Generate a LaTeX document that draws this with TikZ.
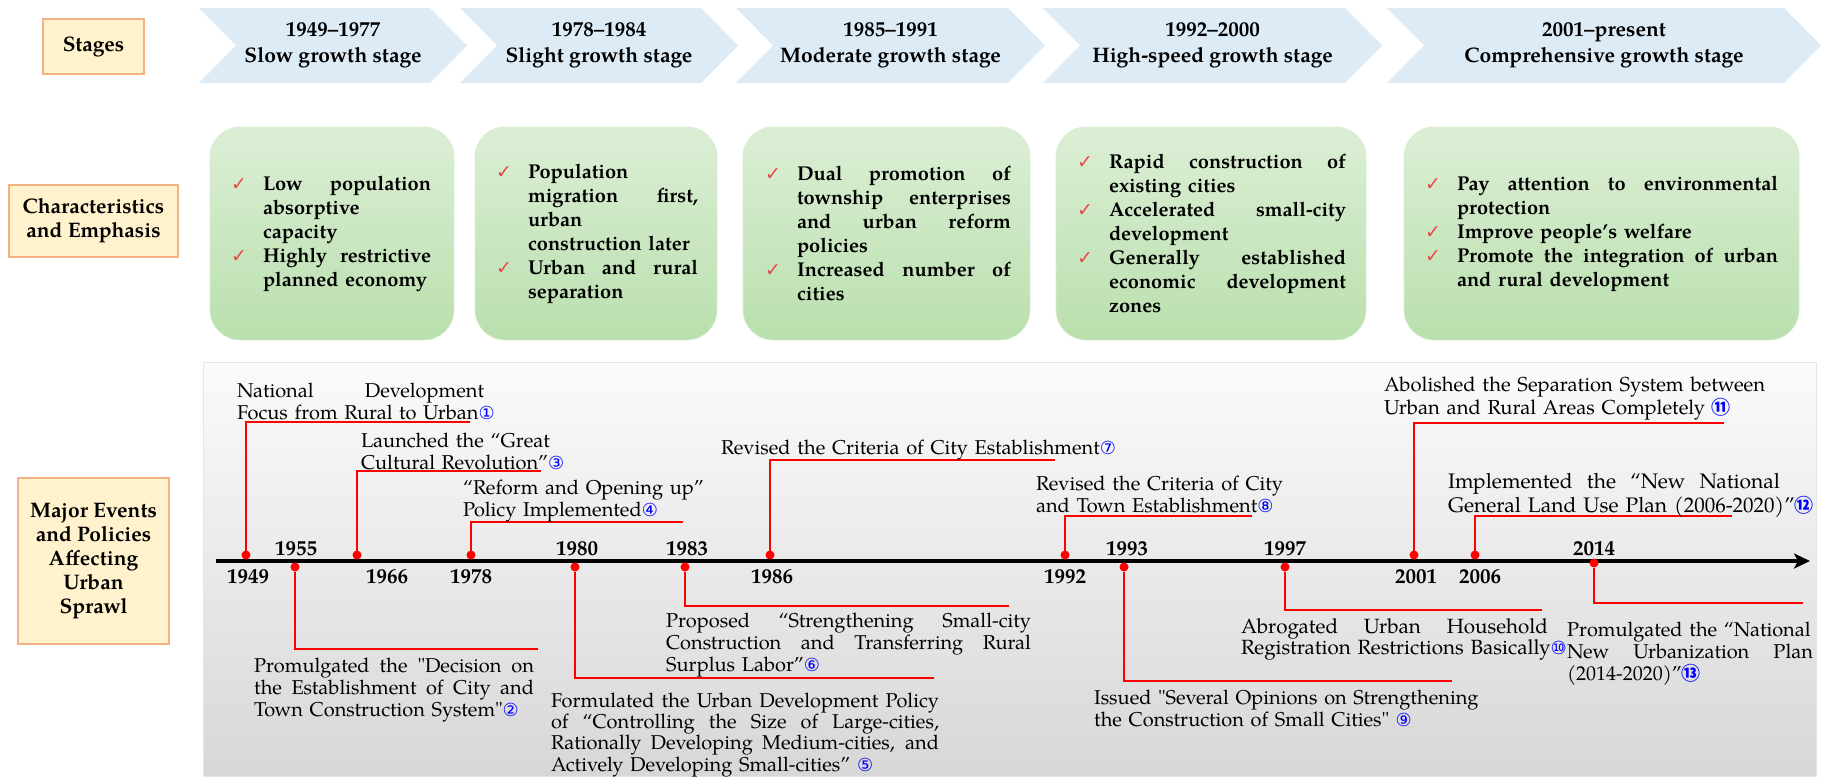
\documentclass[tikz,border=0pt]{standalone}
\usepackage{fontspec}
\newfontfamily\pala{TeX Gyre Pagella}
\newfontfamily\dejavu{DejaVu Sans}
\newfontfamily\cjk{Noto Sans CJK SC}
\usetikzlibrary{positioning}
\usetikzlibrary{calc}
\usetikzlibrary{arrows.meta}

\definecolor{headfill}{RGB}{255,242,204}
\definecolor{headline}{RGB}{244,177,131}
\definecolor{chevfill}{RGB}{221,235,247}
\definecolor{greentop}{RGB}{237,246,233}
\definecolor{greenmid}{RGB}{178,220,165}
\definecolor{greenbot}{RGB}{206,232,197}
\definecolor{greenline}{RGB}{218,237,211}
\definecolor{paneltop}{RGB}{251,251,251}
\definecolor{panelbot}{RGB}{215,215,215}
\definecolor{panelline}{RGB}{228,228,228}
\definecolor{eventred}{RGB}{255,0,0}
\definecolor{tickred}{RGB}{236,72,72}
\definecolor{numblue}{RGB}{0,0,255}

\pgfdeclareverticalshading{greenfade}{100bp}{color(0bp)=(greenbot); color(14bp)=(greenmid); color(100bp)=(greentop)}

% circled numbers, ticks and full justified lines
\newcommand\cn[1]{\textcolor{numblue}{\dejavu\fontsize{9}{9}\selectfont #1}}
\newcommand\cnb[1]{\textcolor{numblue}{\cjk\bfseries\fontsize{9.5}{9.5}\selectfont #1}}
\newcommand\tick{\leavevmode\llap{\textcolor{tickred}{\dejavu\fontsize{9.5}{9.5}\selectfont ✓}\hspace{8pt}}}
\newcommand\jline[1]{\leavevmode\hbox to\hsize{\spaceskip=.25em plus 1fil\relax #1}}

\tikzset{
        every node/.style={inner sep=0pt,outer sep=0pt},
        headbox/.style={draw=headline,fill=headfill,line width=1pt,align=center,
                font=\pala\bfseries\fontsize{10.5}{12}\selectfont},
        stagechev/.style={fill=chevfill},
        stagetext/.style={align=center,font=\pala\bfseries\fontsize{10.5}{13}\selectfont},
        greenbox/.style={draw=greenline,shading=greenfade,rounded corners=15pt},
        itemtext/.style={text width=#1,align=left,anchor=west,
                font=\pala\bfseries\fontsize{10}{12}\selectfont},
        eventtext/.style={text width=#1,align=left,anchor=base west,
                font=\pala\fontsize{10}{11}\selectfont},
        yearlabel/.style={font=\pala\bfseries\fontsize{10.5}{12}\selectfont},
        eventdot/.style={circle,fill=eventred,minimum size=4.5pt},
        leader/.style={draw=eventred,line width=1.1pt},
        timeaxis/.style={line width=2pt,-{Stealth[length=8pt,width=7.5pt,inset=2pt]}},
        }

\begin{document}
\begin{tikzpicture}[x=0.5pt,y=-0.5pt]

		\useasboundingbox (0,0) rectangle (1823,777);

		% row headings.....................
		\node [headbox, minimum width=50.5pt, minimum height=27.5pt] (stages) at (93.5,46.5) {Stages};
		\node [headbox, minimum width=84.5pt, minimum height=36pt] (charact) at (93.5,221) {Characteristics\\and Emphasis};
		\node [headbox, minimum width=75.5pt, minimum height=83pt] (events) at (93.5,561) {Major Events\\and Policies\\Affecting\\Urban\\Sprawl};

		% stage arrows......................
		\foreach \l/\r in {199/430,460/701,736/1008,1043/1345,1387/1784}
			\fill [stagechev] (\l,8) -- (\r,8) -- (\r+37,45.5) -- (\r,83) -- (\l,83) -- (\l+37,45.5) -- cycle;

		\node [stagetext] (stage1) at (333,45.5) {1949–1977\\Slow growth stage};
		\node [stagetext] (stage2) at (599,45.5) {1978–1984\\Slight growth stage};
		\node [stagetext] (stage3) at (890.5,45.5) {1985–1991\\Moderate growth stage};
		\node [stagetext] (stage4) at (1212.5,45.5) {1992–2000\\High-speed growth stage};
		\node [stagetext] (stage5) at (1604,45.5) {2001–present\\Comprehensive growth stage};

		% characteristics boxes..................
		\node [greenbox, minimum width=122pt, minimum height=106.5pt] (box1) at (332,233.5) {};
		\node [itemtext=84pt] (box1txt) at ([xshift=26.5pt]box1.west) {%
			\tick\jline{Low population}\\
			absorptive\\
			capacity\\
			\tick\jline{Highly restrictive}\\
			planned economy};

		\node [greenbox, minimum width=121pt, minimum height=106.5pt] (box2) at (596,233.5) {};
		\node [itemtext=85pt] (box2txt) at ([xshift=26.5pt]box2.west) {%
			\tick Population\\
			\jline{migration first,}\\
			urban\\
			\mbox{construction later}\\
			\tick\jline{Urban and rural}\\
			separation};

		\node [greenbox, minimum width=143.5pt, minimum height=106.5pt] (box3) at (886.5,233.5) {};
		\node [itemtext=107pt] (box3txt) at ([xshift=27pt]box3.west) {%
			\tick\jline{Dual promotion of}\\
			\jline{township enterprises}\\
			\jline{and urban reform}\\
			policies\\
			\tick\jline{Increased number of}\\
			cities};

		\node [greenbox, minimum width=155pt, minimum height=106.5pt] (box4) at (1211,233.5) {};
		\node [itemtext=118.5pt] (box4txt) at ([xshift=26.5pt]box4.west) {%
			\tick\jline{Rapid construction of}\\
			existing cities\\
			\tick\jline{Accelerated small-city}\\
			development\\
			\tick\jline{Generally established}\\
			\jline{economic development}\\
			zones};

		\node [greenbox, minimum width=197.5pt, minimum height=106.5pt] (box5) at (1601.5,233.5) {};
		\node [itemtext=160.5pt] (box5txt) at ([xshift=26.5pt]box5.west) {%
			\tick\jline{Pay attention to environmental}\\
			protection\\
			\tick Improve people’s welfare\\
			\tick\jline{Promote the integration of urban}\\
			and rural development};

		% timeline panel......................
		\shade [top color=paneltop, bottom color=panelbot, draw=panelline] (203,362) rectangle (1816,776);

		% time axis...........................
		\coordinate (axisstart) at (216,561);
		\coordinate (axisend) at (1810,561);
		\draw [timeaxis] (axisstart) to (axisend);

		% event dots and years.................
		\node [eventdot] (d1949) at (246,555) {};
		\node [eventdot] (d1955) at (295,567) {};
		\node [eventdot] (d1966) at (357,555) {};
		\node [eventdot] (d1978) at (471,555) {};
		\node [eventdot] (d1980) at (575,567) {};
		\node [eventdot] (d1983) at (685,567) {};
		\node [eventdot] (d1986) at (770,555) {};
		\node [eventdot] (d1992) at (1065,555) {};
		\node [eventdot] (d1993) at (1124,567) {};
		\node [eventdot] (d1997) at (1285,567) {};
		\node [eventdot] (d2001) at (1414,555) {};
		\node [eventdot] (d2006) at (1475,555) {};
		\node [eventdot] (d2014) at (1594,563) {};

		\node [yearlabel] (y1949) at (248,577) {1949};
		\node [yearlabel] (y1955) at (296,549) {1955};
		\node [yearlabel] (y1966) at (387,577) {1966};
		\node [yearlabel] (y1978) at (471,577) {1978};
		\node [yearlabel] (y1980) at (577,549) {1980};
		\node [yearlabel] (y1983) at (687,549) {1983};
		\node [yearlabel] (y1986) at (772,577) {1986};
		\node [yearlabel] (y1992) at (1065,577) {1992};
		\node [yearlabel] (y1993) at (1127,549) {1993};
		\node [yearlabel] (y1997) at (1285,549) {1997};
		\node [yearlabel] (y2001) at (1416,577) {2001};
		\node [yearlabel] (y2006) at (1480,577) {2006};
		\node [yearlabel] (y2014) at (1594,549) {2014};

		% leader ends..........................
		\coordinate (e1949) at (470,422);
		\coordinate (e1955) at (538,649);
		\coordinate (e1966) at (541,471);
		\coordinate (e1978) at (683,522);
		\coordinate (e1980) at (934,678);
		\coordinate (e1983) at (1009,606);
		\coordinate (e1986) at (1055,460);
		\coordinate (e1992) at (1252,516);
		\coordinate (e1993) at (1452,681);
		\coordinate (e1997) at (1542,610);
		\coordinate (e2001) at (1724,423);
		\coordinate (e2006) at (1732,516);
		\coordinate (e2014) at (1803,603);

		\foreach \yr in {1949,1955,1966,1978,1980,1983,1986,1992,1993,1997,2001,2006,2014}
			\draw [leader] (d\yr) |- (e\yr);

		% events above the axis...................
		\node [eventtext=123.5pt] (t1949) at (237,397) {\jline{National Development}\\\mbox{Focus from Rural to Urban\cn{①}}};
		\node [eventtext=120pt] (t1966) at (361,447) {Launched the “Great\\\mbox{Cultural Revolution”\cn{③}}};
		\node [eventtext=130pt] (t1978) at (463,494) {“Reform and Opening up”\\Policy Implemented\cn{④}};
		\node [eventtext=220pt] (t1986) at (721,454) {Revised the Criteria of City Establishment\cn{⑦}};
		\node [eventtext=140pt] (t1992) at (1036,490) {Revised the Criteria of City\\and Town Establishment\cn{⑧}};
		\node [eventtext=200pt, font=\pala\fontsize{10.1}{10.5}\selectfont] (t2001) at (1384,391) {\mbox{Abolished the Separation System between}\\\mbox{Urban and Rural Areas Completely \cnb{⑪}}};
		\node [eventtext=166pt, font=\pala\fontsize{10.5}{10.5}\selectfont] (t2006) at (1448,488) {\jline{Implemented the “New National}\\\mbox{General Land Use Plan (2006-2020)”\cnb{⑫}}};

		% events below the axis...................
		\node [eventtext=140pt] (t1955) at (254,672) {\jline{Promulgated the "Decision on}\\\jline{the Establishment of City and}\\\mbox{Town Construction System"\cn{②}}};
		\node [eventtext=194pt, font=\pala\fontsize{10}{10.7}\selectfont] (t1980) at (551,707) {\jline{Formulated the Urban Development Policy}\\\jline{of “Controlling the Size of Large-cities,}\\\jline{Rationally Developing Medium-cities, and}\\Actively Developing Small-cities” \cn{⑤}};
		\node [eventtext=182.5pt] (t1983) at (666,627) {\jline{Proposed “Strengthening Small-city}\\\jline{Construction and Transferring Rural}\\Surplus Labor”\cn{⑥}};
		\node [eventtext=200pt] (t1993) at (1094,704) {Issued "Several Opinions on Strengthening\\the Construction of Small Cities" \cn{⑨}};
		\node [eventtext=153.5pt, font=\pala\fontsize{10.3}{10.5}\selectfont] (t1997) at (1241,633) {\jline{Abrogated Urban Household}\\\mbox{Registration Restrictions Basically\cn{⑩}}};
		\node [eventtext=123pt] (t2014) at (1567,636) {\mbox{Promulgated the “National}\\\jline{New Urbanization Plan}\\(2014-2020)”\cnb{⑬}};

	\end{tikzpicture}
\end{document}
